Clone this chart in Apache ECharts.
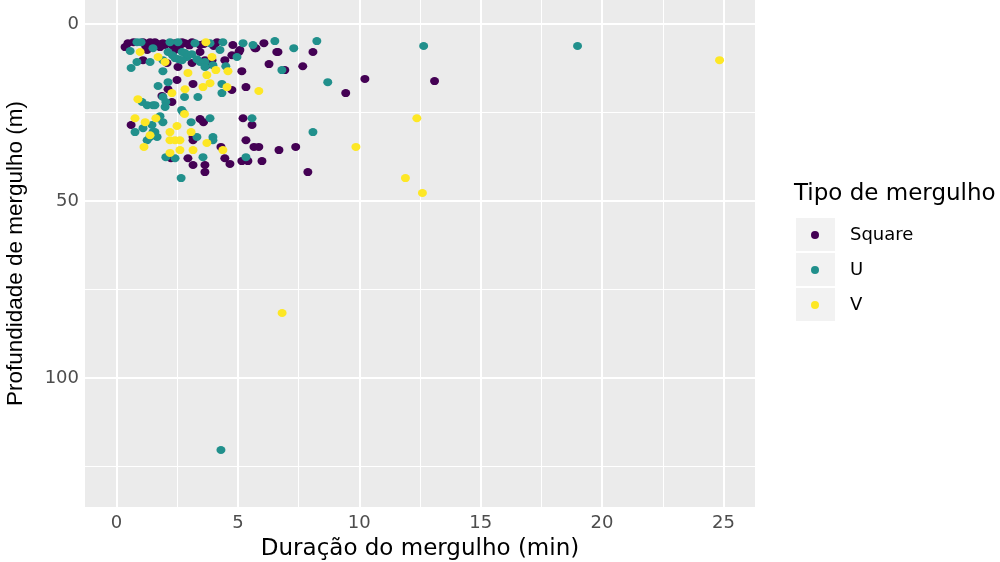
<!DOCTYPE html>
<html>
<head>
<meta charset="utf-8">
<title>Duração x profundidade de mergulho</title>
<script src="https://cdn.jsdelivr.net/npm/echarts@6/dist/echarts.min.js"></script>
<style>
  html, body { margin: 0; padding: 0; background: #ffffff; }
  #chart { width: 1000px; height: 562px; }
</style>
</head>
<body>
<div id="chart"></div>
<script>
// Dive records: [duration (min), depth (m)] per dive type
const squareDives = [
  [0.47, 5.4], [0.35, 6.5], [1.09, 5.1], [1.38, 5.1], [1.58, 5.1], [1.46, 5.4], [1.91, 5.4],
  [2.0, 5.9], [2.41, 5.4], [2.7, 5.1], [2.82, 5.4], [3.11, 5.1], [3.15, 5.4], [3.44, 5.9],
  [4.14, 5.1], [4.79, 5.9], [5.74, 6.8], [6.07, 5.4], [6.65, 7.9], [8.09, 7.9],
  [0.7, 5.1], [1.2, 6.2], [1.7, 5.6], [2.3, 6.0], [2.6, 6.2], [3.0, 6.0], [3.6, 5.6], [4.0, 6.2],
  [1.26, 7.3], [1.79, 6.5], [2.41, 7.3], [3.44, 7.9], [4.75, 8.8], [5.04, 7.9], [5.08, 7.3],
  [5.7, 6.8], [6.6, 7.9], [1.09, 10.2], [2.08, 11.0], [3.11, 11.0], [3.93, 10.2], [4.46, 10.2],
  [5.16, 13.3], [6.28, 11.3], [6.93, 13.0], [7.67, 11.9], [2.53, 12.1], [3.64, 10.2], [3.72, 11.6],
  [2.49, 15.8], [3.15, 16.9], [4.75, 18.6], [5.33, 17.8], [2.12, 18.4], [1.87, 20.3], [2.28, 22.0],
  [3.44, 26.8], [10.23, 15.5], [9.44, 19.5], [13.1, 16.1], [7.88, 41.8],
  [0.6, 28.5], [3.58, 27.7], [5.21, 26.6], [5.58, 28.5], [3.15, 31.9], [3.15, 32.8], [5.33, 32.8],
  [4.3, 34.7], [5.66, 34.7], [5.86, 34.7], [6.69, 35.6], [7.38, 34.7], [2.24, 37.9], [2.94, 37.9],
  [4.46, 37.9], [3.15, 39.8], [3.64, 39.8], [4.67, 39.5], [3.64, 41.8], [5.16, 38.7], [5.41, 38.7],
  [5.99, 38.7]
];
const uDives = [
  [0.84, 5.1], [1.01, 5.1], [2.2, 5.1], [2.53, 5.1], [3.23, 5.4], [3.85, 5.4], [4.38, 5.1],
  [5.21, 5.4], [5.62, 5.9], [6.52, 4.8], [7.3, 6.8], [8.25, 4.8], [12.65, 6.2], [18.99, 6.2],
  [0.56, 7.6], [1.5, 6.8], [2.12, 7.9], [2.7, 7.9], [2.82, 8.2], [4.26, 7.3], [4.96, 9.3],
  [2.3, 8.8], [2.9, 9.3], [3.1, 8.5], [2.55, 9.9],
  [0.84, 10.7], [1.38, 10.7], [1.91, 10.2], [2.41, 9.6], [2.7, 10.2], [3.31, 9.9], [3.64, 10.7],
  [3.97, 11.6], [3.44, 10.7], [0.6, 12.4], [1.91, 13.3], [3.64, 12.1], [4.5, 11.9], [6.81, 13.0],
  [8.7, 16.4], [1.71, 17.5], [2.12, 16.4], [4.34, 16.9], [4.34, 19.5], [1.91, 20.6], [2.8, 20.6],
  [3.35, 20.6], [1.05, 22.0], [1.26, 22.9], [1.5, 22.9], [1.58, 22.9], [2.03, 22.0], [2.0, 23.4],
  [2.68, 24.3], [2.74, 24.9], [1.79, 26.0], [1.71, 26.6], [1.91, 27.7], [3.07, 27.7], [3.85, 26.6],
  [0.76, 30.5], [1.09, 29.4], [1.46, 28.5], [1.5, 30.5], [1.58, 30.5], [1.38, 31.9], [1.67, 31.9],
  [1.26, 32.8], [3.31, 31.9], [3.97, 31.9], [3.97, 32.8], [5.58, 26.6], [8.09, 30.5],
  [2.03, 37.6], [2.41, 37.9], [3.56, 37.6], [5.33, 37.6], [2.66, 43.5], [4.3, 120.3]
];
const vDives = [
  [3.68, 5.1], [0.97, 7.9], [3.93, 9.3], [1.71, 9.3], [2.0, 10.7], [2.94, 13.8], [4.09, 13.0],
  [4.59, 13.3], [3.72, 14.4], [2.82, 18.4], [3.56, 17.8], [3.85, 16.7], [4.55, 17.8], [5.86, 18.9],
  [2.28, 19.5], [0.88, 21.2], [2.8, 25.4], [0.76, 26.6], [1.18, 27.7], [1.62, 26.6], [2.49, 28.8],
  [2.2, 30.5], [3.07, 30.5], [1.38, 31.4], [2.2, 32.8], [2.41, 32.8], [2.61, 32.8], [3.72, 33.6],
  [4.38, 35.6], [1.13, 34.7], [2.61, 35.6], [3.15, 35.6], [2.2, 36.4],
  [24.84, 10.2], [12.37, 26.6], [9.86, 34.7], [11.9, 43.5], [12.6, 47.7], [6.82, 81.6]
];

const diveTypes = ['Square', 'U', 'V'];
const typeColors = ['#440154', '#21908C', '#FDE725'];

// Axis ticks and grid breaks
const xTicks = [0, 5, 10, 15, 20, 25];
const xMinor = [2.5, 7.5, 12.5, 17.5, 22.5];
const yTicks = [0, 50, 100];
const yMinor = [25, 75, 125];

// Wide face for horizontal text, narrower face for the rotated y title
const WIDE = '"DejaVu Sans", sans-serif';
const NARROW = '"Liberation Sans", Arial, sans-serif';

const gridLines = [
  ...xMinor.map(v => ({ xAxis: v, lineStyle: { width: 1 } })),
  ...yMinor.map(v => ({ yAxis: v, lineStyle: { width: 1 } })),
  ...xTicks.map(v => ({ xAxis: v, lineStyle: { width: 2 } })),
  ...yTicks.map(v => ({ yAxis: v, lineStyle: { width: 2 } }))
];

const chart = echarts.init(document.getElementById('chart'), null, { renderer: 'canvas' });

const pointSeries = [squareDives, uDives, vDives].map((data, i) => ({
  name: diveTypes[i],
  type: 'scatter',
  data: data,
  symbol: 'circle',
  symbolSize: [9, 8],
  itemStyle: { color: typeColors[i], opacity: 1 },
  z: 3,
  silent: true
}));

chart.setOption({
  animation: false,
  backgroundColor: '#ffffff',
  textStyle: { fontFamily: WIDE },
  title: {
    text: 'Tipo de mergulho',
    left: 794,
    top: 183,
    padding: 0,
    textStyle: { fontFamily: WIDE, fontSize: 23, fontWeight: 'normal', color: '#000000' }
  },
  legend: {
    data: diveTypes,
    orient: 'vertical',
    left: 811,
    top: 225,
    padding: 0,
    itemGap: 15,
    itemWidth: 8,
    itemHeight: 8,
    icon: 'circle',
    selectedMode: false,
    textStyle: { fontFamily: WIDE, fontSize: 18, color: '#000000', lineHeight: 20, padding: [0, 0, 0, 26] }
  },
  graphic: [218, 253, 288].map(t => ({
    type: 'rect',
    shape: { x: 796, y: t, width: 39, height: 33 },
    style: { fill: '#F2F2F2' },
    z: -1,
    silent: true
  })),
  grid: {
    left: 85, top: 0, width: 670, height: 507,
    outerBoundsMode: 'none',
    containLabel: false,
    show: true, backgroundColor: '#EBEBEB', borderWidth: 0
  },
  xAxis: {
    type: 'value',
    min: -1.3,
    max: 26.3,
    name: 'Duração do mergulho (min)',
    nameLocation: 'middle',
    nameGap: 31,
    nameTextStyle: { fontFamily: WIDE, fontSize: 23, color: '#000000', verticalAlign: 'top' },
    axisLine: { show: false },
    axisTick: { show: true, customValues: xTicks, length: 4, lineStyle: { color: '#333333', width: 1 } },
    axisLabel: { customValues: xTicks, color: '#4D4D4D', fontSize: 18, margin: 7, fontFamily: WIDE },
    splitLine: { show: false },
    minorSplitLine: { show: false }
  },
  yAxis: {
    type: 'value',
    inverse: true,
    min: -6.8,
    max: 136.4,
    name: 'Profundidade de mergulho (m)',
    nameLocation: 'middle',
    nameGap: 58,
    nameTextStyle: { fontFamily: NARROW, fontSize: 22.5, color: '#000000' },
    axisLine: { show: false },
    axisTick: { show: true, customValues: yTicks, length: 4, lineStyle: { color: '#333333', width: 1 } },
    axisLabel: { customValues: yTicks, color: '#4D4D4D', fontSize: 18, margin: 6, fontFamily: WIDE },
    splitLine: { show: false },
    minorSplitLine: { show: false }
  },
  series: [
    {
      name: 'grade',
      type: 'scatter',
      data: [],
      z: 1,
      silent: true,
      markLine: {
        silent: true,
        z: 1,
        symbol: 'none',
        label: { show: false },
        animation: false,
        lineStyle: { color: '#ffffff', type: 'solid' },
        data: gridLines
      }
    },
    ...pointSeries
  ]
});
</script>
</body>
</html>
